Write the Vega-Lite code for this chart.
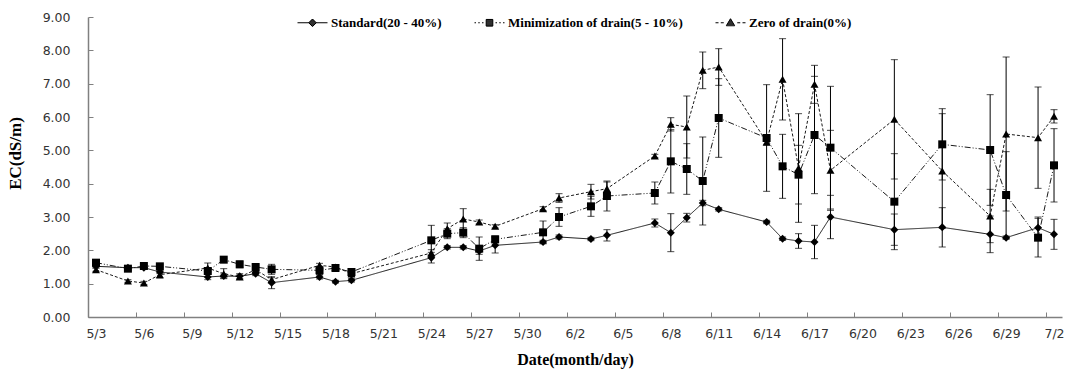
{
  "$schema": "https://vega.github.io/schema/vega-lite/v6.json",
  "width": 974,
  "height": 300,
  "autosize": {"type": "none"},
  "padding": {"left": 88, "top": 17, "right": 6, "bottom": 55},
  "background": "white",
  "config": {
    "view": {"stroke": null},
    "axis": {
      "grid": false,
      "domainColor": "#808080",
      "domainWidth": 1.5,
      "tickColor": "#808080",
      "tickWidth": 1,
      "labelFont": "DejaVu Sans",
      "labelFontSize": 12.5,
      "labelColor": "#333333",
      "titleFont": "Liberation Serif",
      "titleFontWeight": "bold",
      "titleColor": "black"
    }
  },
  "data": {
    "values": [
      {"date": "2024-05-03", "series": "Standard(20 - 40%)", "ec": 1.52, "sd": 0.05},
      {"date": "2024-05-05", "series": "Standard(20 - 40%)", "ec": 1.48, "sd": 0.04},
      {"date": "2024-05-06", "series": "Standard(20 - 40%)", "ec": 1.48, "sd": 0.05},
      {"date": "2024-05-07", "series": "Standard(20 - 40%)", "ec": 1.35, "sd": 0.05},
      {"date": "2024-05-10", "series": "Standard(20 - 40%)", "ec": 1.2, "sd": 0.08},
      {"date": "2024-05-11", "series": "Standard(20 - 40%)", "ec": 1.23, "sd": 0.06},
      {"date": "2024-05-12", "series": "Standard(20 - 40%)", "ec": 1.22, "sd": 0.08},
      {"date": "2024-05-13", "series": "Standard(20 - 40%)", "ec": 1.3, "sd": 0.06},
      {"date": "2024-05-14", "series": "Standard(20 - 40%)", "ec": 1.03, "sd": 0.18},
      {"date": "2024-05-17", "series": "Standard(20 - 40%)", "ec": 1.2, "sd": 0.06},
      {"date": "2024-05-18", "series": "Standard(20 - 40%)", "ec": 1.06, "sd": 0.04},
      {"date": "2024-05-19", "series": "Standard(20 - 40%)", "ec": 1.1, "sd": 0.05},
      {"date": "2024-05-24", "series": "Standard(20 - 40%)", "ec": 1.78, "sd": 0.16},
      {"date": "2024-05-25", "series": "Standard(20 - 40%)", "ec": 2.09, "sd": 0.05},
      {"date": "2024-05-26", "series": "Standard(20 - 40%)", "ec": 2.09, "sd": 0.05},
      {"date": "2024-05-27", "series": "Standard(20 - 40%)", "ec": 1.98, "sd": 0.1},
      {"date": "2024-05-28", "series": "Standard(20 - 40%)", "ec": 2.15, "sd": 0.23},
      {"date": "2024-05-31", "series": "Standard(20 - 40%)", "ec": 2.25, "sd": 0.05},
      {"date": "2024-06-01", "series": "Standard(20 - 40%)", "ec": 2.4, "sd": 0.06},
      {"date": "2024-06-03", "series": "Standard(20 - 40%)", "ec": 2.34, "sd": 0.05},
      {"date": "2024-06-04", "series": "Standard(20 - 40%)", "ec": 2.45, "sd": 0.17},
      {"date": "2024-06-07", "series": "Standard(20 - 40%)", "ec": 2.82, "sd": 0.12},
      {"date": "2024-06-08", "series": "Standard(20 - 40%)", "ec": 2.53, "sd": 0.57},
      {"date": "2024-06-09", "series": "Standard(20 - 40%)", "ec": 2.98, "sd": 0.13},
      {"date": "2024-06-10", "series": "Standard(20 - 40%)", "ec": 3.42, "sd": 0.08},
      {"date": "2024-06-11", "series": "Standard(20 - 40%)", "ec": 3.23, "sd": 0.05},
      {"date": "2024-06-14", "series": "Standard(20 - 40%)", "ec": 2.85, "sd": 0.05},
      {"date": "2024-06-15", "series": "Standard(20 - 40%)", "ec": 2.35, "sd": 0.05},
      {"date": "2024-06-16", "series": "Standard(20 - 40%)", "ec": 2.28, "sd": 0.22},
      {"date": "2024-06-17", "series": "Standard(20 - 40%)", "ec": 2.25, "sd": 0.5},
      {"date": "2024-06-18", "series": "Standard(20 - 40%)", "ec": 3.0, "sd": 0.65},
      {"date": "2024-06-22", "series": "Standard(20 - 40%)", "ec": 2.62, "sd": 0.47},
      {"date": "2024-06-25", "series": "Standard(20 - 40%)", "ec": 2.69, "sd": 0.59},
      {"date": "2024-06-28", "series": "Standard(20 - 40%)", "ec": 2.48, "sd": 0.55},
      {"date": "2024-06-29", "series": "Standard(20 - 40%)", "ec": 2.38, "sd": 0.05},
      {"date": "2024-07-01", "series": "Standard(20 - 40%)", "ec": 2.68, "sd": 0.32},
      {"date": "2024-07-02", "series": "Standard(20 - 40%)", "ec": 2.48, "sd": 0.45},

      {"date": "2024-05-03", "series": "Minimization of drain(5 - 10%)", "ec": 1.63, "sd": 0.05},
      {"date": "2024-05-05", "series": "Minimization of drain(5 - 10%)", "ec": 1.45, "sd": 0.05},
      {"date": "2024-05-06", "series": "Minimization of drain(5 - 10%)", "ec": 1.53, "sd": 0.04},
      {"date": "2024-05-07", "series": "Minimization of drain(5 - 10%)", "ec": 1.52, "sd": 0.04},
      {"date": "2024-05-10", "series": "Minimization of drain(5 - 10%)", "ec": 1.38, "sd": 0.05},
      {"date": "2024-05-11", "series": "Minimization of drain(5 - 10%)", "ec": 1.72, "sd": 0.05},
      {"date": "2024-05-12", "series": "Minimization of drain(5 - 10%)", "ec": 1.58, "sd": 0.1},
      {"date": "2024-05-13", "series": "Minimization of drain(5 - 10%)", "ec": 1.5, "sd": 0.06},
      {"date": "2024-05-14", "series": "Minimization of drain(5 - 10%)", "ec": 1.43, "sd": 0.15},
      {"date": "2024-05-17", "series": "Minimization of drain(5 - 10%)", "ec": 1.4, "sd": 0.12},
      {"date": "2024-05-18", "series": "Minimization of drain(5 - 10%)", "ec": 1.47, "sd": 0.05},
      {"date": "2024-05-19", "series": "Minimization of drain(5 - 10%)", "ec": 1.35, "sd": 0.1},
      {"date": "2024-05-24", "series": "Minimization of drain(5 - 10%)", "ec": 2.3, "sd": 0.45},
      {"date": "2024-05-25", "series": "Minimization of drain(5 - 10%)", "ec": 2.5, "sd": 0.15},
      {"date": "2024-05-26", "series": "Minimization of drain(5 - 10%)", "ec": 2.53, "sd": 0.15},
      {"date": "2024-05-27", "series": "Minimization of drain(5 - 10%)", "ec": 2.05, "sd": 0.35},
      {"date": "2024-05-28", "series": "Minimization of drain(5 - 10%)", "ec": 2.33, "sd": 0.1},
      {"date": "2024-05-31", "series": "Minimization of drain(5 - 10%)", "ec": 2.54, "sd": 0.34},
      {"date": "2024-06-01", "series": "Minimization of drain(5 - 10%)", "ec": 3.0, "sd": 0.28},
      {"date": "2024-06-03", "series": "Minimization of drain(5 - 10%)", "ec": 3.32, "sd": 0.3},
      {"date": "2024-06-04", "series": "Minimization of drain(5 - 10%)", "ec": 3.63, "sd": 0.45},
      {"date": "2024-06-07", "series": "Minimization of drain(5 - 10%)", "ec": 3.72, "sd": 0.33},
      {"date": "2024-06-08", "series": "Minimization of drain(5 - 10%)", "ec": 4.67, "sd": 0.95},
      {"date": "2024-06-09", "series": "Minimization of drain(5 - 10%)", "ec": 4.44, "sd": 0.76},
      {"date": "2024-06-10", "series": "Minimization of drain(5 - 10%)", "ec": 4.08, "sd": 1.32},
      {"date": "2024-06-11", "series": "Minimization of drain(5 - 10%)", "ec": 5.97, "sd": 1.18},
      {"date": "2024-06-14", "series": "Minimization of drain(5 - 10%)", "ec": 5.37, "sd": 1.6},
      {"date": "2024-06-15", "series": "Minimization of drain(5 - 10%)", "ec": 4.52, "sd": 0.96},
      {"date": "2024-06-16", "series": "Minimization of drain(5 - 10%)", "ec": 4.27, "sd": 0.88},
      {"date": "2024-06-17", "series": "Minimization of drain(5 - 10%)", "ec": 5.46, "sd": 1.76},
      {"date": "2024-06-18", "series": "Minimization of drain(5 - 10%)", "ec": 5.08, "sd": 1.84},
      {"date": "2024-06-22", "series": "Minimization of drain(5 - 10%)", "ec": 3.46, "sd": 1.44},
      {"date": "2024-06-25", "series": "Minimization of drain(5 - 10%)", "ec": 5.18, "sd": 1.07},
      {"date": "2024-06-28", "series": "Minimization of drain(5 - 10%)", "ec": 5.01, "sd": 1.66},
      {"date": "2024-06-29", "series": "Minimization of drain(5 - 10%)", "ec": 3.66, "sd": 1.3},
      {"date": "2024-07-01", "series": "Minimization of drain(5 - 10%)", "ec": 2.38, "sd": 0.58},
      {"date": "2024-07-02", "series": "Minimization of drain(5 - 10%)", "ec": 4.55, "sd": 1.1},

      {"date": "2024-05-03", "series": "Zero of drain(0%)", "ec": 1.42, "sd": 0.05},
      {"date": "2024-05-05", "series": "Zero of drain(0%)", "ec": 1.08, "sd": 0.04},
      {"date": "2024-05-06", "series": "Zero of drain(0%)", "ec": 1.02, "sd": 0.05},
      {"date": "2024-05-07", "series": "Zero of drain(0%)", "ec": 1.27, "sd": 0.1},
      {"date": "2024-05-10", "series": "Zero of drain(0%)", "ec": 1.47, "sd": 0.15},
      {"date": "2024-05-11", "series": "Zero of drain(0%)", "ec": 1.3, "sd": 0.15},
      {"date": "2024-05-12", "series": "Zero of drain(0%)", "ec": 1.2, "sd": 0.06},
      {"date": "2024-05-13", "series": "Zero of drain(0%)", "ec": 1.42, "sd": 0.08},
      {"date": "2024-05-14", "series": "Zero of drain(0%)", "ec": 1.12, "sd": 0.06},
      {"date": "2024-05-17", "series": "Zero of drain(0%)", "ec": 1.55, "sd": 0.06},
      {"date": "2024-05-18", "series": "Zero of drain(0%)", "ec": 1.5, "sd": 0.05},
      {"date": "2024-05-19", "series": "Zero of drain(0%)", "ec": 1.3, "sd": 0.1},
      {"date": "2024-05-24", "series": "Zero of drain(0%)", "ec": 1.92, "sd": 0.1},
      {"date": "2024-05-25", "series": "Zero of drain(0%)", "ec": 2.65, "sd": 0.17},
      {"date": "2024-05-26", "series": "Zero of drain(0%)", "ec": 2.94, "sd": 0.31},
      {"date": "2024-05-27", "series": "Zero of drain(0%)", "ec": 2.85, "sd": 0.06},
      {"date": "2024-05-28", "series": "Zero of drain(0%)", "ec": 2.72, "sd": 0.05},
      {"date": "2024-05-31", "series": "Zero of drain(0%)", "ec": 3.25, "sd": 0.06},
      {"date": "2024-06-01", "series": "Zero of drain(0%)", "ec": 3.57, "sd": 0.13},
      {"date": "2024-06-03", "series": "Zero of drain(0%)", "ec": 3.76, "sd": 0.22},
      {"date": "2024-06-04", "series": "Zero of drain(0%)", "ec": 3.85, "sd": 0.2},
      {"date": "2024-06-07", "series": "Zero of drain(0%)", "ec": 4.83, "sd": 0.05},
      {"date": "2024-06-08", "series": "Zero of drain(0%)", "ec": 5.78, "sd": 0.2},
      {"date": "2024-06-09", "series": "Zero of drain(0%)", "ec": 5.7, "sd": 0.93},
      {"date": "2024-06-10", "series": "Zero of drain(0%)", "ec": 7.4, "sd": 0.55},
      {"date": "2024-06-11", "series": "Zero of drain(0%)", "ec": 7.5, "sd": 0.55},
      {"date": "2024-06-14", "series": "Zero of drain(0%)", "ec": 5.25, "sd": 0.1},
      {"date": "2024-06-15", "series": "Zero of drain(0%)", "ec": 7.13, "sd": 1.22},
      {"date": "2024-06-16", "series": "Zero of drain(0%)", "ec": 4.47, "sd": 1.63},
      {"date": "2024-06-17", "series": "Zero of drain(0%)", "ec": 6.98, "sd": 0.57},
      {"date": "2024-06-18", "series": "Zero of drain(0%)", "ec": 4.4, "sd": 1.2},
      {"date": "2024-06-22", "series": "Zero of drain(0%)", "ec": 5.93, "sd": 1.79},
      {"date": "2024-06-25", "series": "Zero of drain(0%)", "ec": 4.38, "sd": 1.72},
      {"date": "2024-06-28", "series": "Zero of drain(0%)", "ec": 3.03, "sd": 0.8},
      {"date": "2024-06-29", "series": "Zero of drain(0%)", "ec": 5.49, "sd": 2.31},
      {"date": "2024-07-01", "series": "Zero of drain(0%)", "ec": 5.38, "sd": 1.52},
      {"date": "2024-07-02", "series": "Zero of drain(0%)", "ec": 6.02, "sd": 0.2}
    ]
  },
  "encoding": {
    "x": {
      "field": "date",
      "type": "temporal",
      "scale": {
        "type": "utc",
        "domain": [
          {"year": 2024, "month": 5, "date": 2, "hours": 12, "utc": true},
          {"year": 2024, "month": 7, "date": 2, "hours": 12, "utc": true}
        ]
      },
      "axis": {
        "title": "Date(month/day)",
        "titleFontSize": 16,
        "titleY": 34,
        "titleBaseline": "top",
        "labelExpr": "utcFormat(datum.value, '%-m/%-d')",
        "values": [
          {"year": 2024, "month": 5, "date": 3, "utc": true},
          {"year": 2024, "month": 5, "date": 6, "utc": true},
          {"year": 2024, "month": 5, "date": 9, "utc": true},
          {"year": 2024, "month": 5, "date": 12, "utc": true},
          {"year": 2024, "month": 5, "date": 15, "utc": true},
          {"year": 2024, "month": 5, "date": 18, "utc": true},
          {"year": 2024, "month": 5, "date": 21, "utc": true},
          {"year": 2024, "month": 5, "date": 24, "utc": true},
          {"year": 2024, "month": 5, "date": 27, "utc": true},
          {"year": 2024, "month": 5, "date": 30, "utc": true},
          {"year": 2024, "month": 6, "date": 2, "utc": true},
          {"year": 2024, "month": 6, "date": 5, "utc": true},
          {"year": 2024, "month": 6, "date": 8, "utc": true},
          {"year": 2024, "month": 6, "date": 11, "utc": true},
          {"year": 2024, "month": 6, "date": 14, "utc": true},
          {"year": 2024, "month": 6, "date": 17, "utc": true},
          {"year": 2024, "month": 6, "date": 20, "utc": true},
          {"year": 2024, "month": 6, "date": 23, "utc": true},
          {"year": 2024, "month": 6, "date": 26, "utc": true},
          {"year": 2024, "month": 6, "date": 29, "utc": true},
          {"year": 2024, "month": 7, "date": 2, "utc": true}
        ],
        "tickOffset": -8,
        "labelOffset": 8,
        "tickSize": -5,
        "labelPadding": 15,
        "labelFlush": false,
        "labelOverlap": false
      }
    },
    "y": {
      "field": "ec",
      "type": "quantitative",
      "scale": {"domain": [0, 9], "nice": false, "zero": true},
      "axis": {
        "title": "EC(dS/m)",
        "titleFontSize": 17,
        "titleX": -64,
        "titleY": 136,
        "titleBaseline": "bottom",
        "titleAlign": "center",
        "values": [0, 1, 2, 3, 4, 5, 6, 7, 8, 9],
        "format": ".2f",
        "tickSize": -5,
        "labelPadding": 23
      }
    }
  },
  "layer": [
    {
      "mark": {"type": "errorbar", "ticks": {"size": 7, "color": "black", "strokeWidth": 1}, "rule": {"color": "black", "strokeWidth": 1}},
      "encoding": {
        "yError": {"field": "sd"},
        "detail": {"field": "series", "type": "nominal"}
      }
    },
    {
      "mark": {"type": "line", "color": "#1a1a1a", "strokeWidth": 1},
      "encoding": {
        "detail": {"field": "series", "type": "nominal"},
        "strokeDash": {
          "field": "series",
          "type": "nominal",
          "scale": {
            "domain": ["Standard(20 - 40%)", "Minimization of drain(5 - 10%)", "Zero of drain(0%)"],
            "range": [[1, 0], [6, 2, 1, 2, 1, 2], [3, 2]]
          },
          "legend": null
        }
      }
    },
    {
      "mark": {"type": "point", "filled": true, "size": 64, "color": "black", "opacity": 1},
      "encoding": {
        "shape": {
          "field": "series",
          "type": "nominal",
          "scale": {
            "domain": ["Standard(20 - 40%)", "Minimization of drain(5 - 10%)", "Zero of drain(0%)"],
            "range": ["diamond", "square", "triangle-up"]
          },
          "legend": null
        }
      }
    },
    {
      "mark": {"type": "point", "filled": false, "color": "black", "strokeWidth": 1, "opacity": 0},
      "encoding": {
        "shape": {
          "field": "series",
          "type": "nominal",
          "scale": {
            "domain": ["Standard(20 - 40%)", "Minimization of drain(5 - 10%)", "Zero of drain(0%)"],
            "range": [
              "M-1,0L1,0M-0.05,-0.2L0.05,-0.2M-0.117,-0.133L0.117,-0.133M-0.183,-0.067L0.183,-0.067M0.183,0.067L-0.183,0.067M-0.117,0.133L0.117,0.133M-0.05,0.2L0.05,0.2M0,-0.25L0.25,0L0,0.25L-0.25,0Z",
              "M-1,0L-0.9,0M-0.75,0L-0.65,0M-0.5,0L-0.4,0M0.4,0L0.5,0M0.65,0L0.75,0M0.9,0L1,0M-0.22,-0.2L0.22,-0.2M-0.22,-0.133L0.22,-0.133M-0.22,-0.067L0.22,-0.067M-0.22,0L0.22,0M-0.22,0.067L0.22,0.067M-0.22,0.133L0.22,0.133M-0.22,0.2L0.22,0.2M-0.22,-0.22L0.22,-0.22L0.22,0.22L-0.22,0.22Z",
              "M-1,0L-0.8,0M-0.65,0L-0.45,0M0.45,0L0.65,0M0.8,0L1,0M-0.042,-0.2L0.042,-0.2M-0.081,-0.133L0.081,-0.133M-0.121,-0.067L0.121,-0.067M-0.161,0L0.161,0M-0.2,0.067L0.2,0.067M-0.24,0.133L0.24,0.133M0,-0.27L0.28,0.2L-0.28,0.2Z"
            ]
          },
          "legend": {
            "title": null,
            "orient": "none",
            "legendX": 209,
            "legendY": -10,
            "direction": "horizontal",
            "padding": 0,
            "symbolSize": 900,
            "symbolStrokeWidth": 1,
            "symbolFillColor": "black",
            "symbolStrokeColor": "black",
            "symbolOpacity": 1,
            "labelFont": "Liberation Serif",
            "labelFontWeight": "bold",
            "labelFontSize": 13,
            "labelColor": "black",
            "labelOffset": 3,
            "labelLimit": 400,
            "columnPadding": 30,
            "encode": {
              "symbols": {
                "fill": {"value": "black"},
                "stroke": {"value": "black"},
                "strokeWidth": {"value": 1},
                "opacity": {"value": 1}
              }
            }
          }
        }
      }
    }
  ],
  "resolve": {"scale": {"shape": "independent"}, "legend": {"shape": "independent"}}
}
